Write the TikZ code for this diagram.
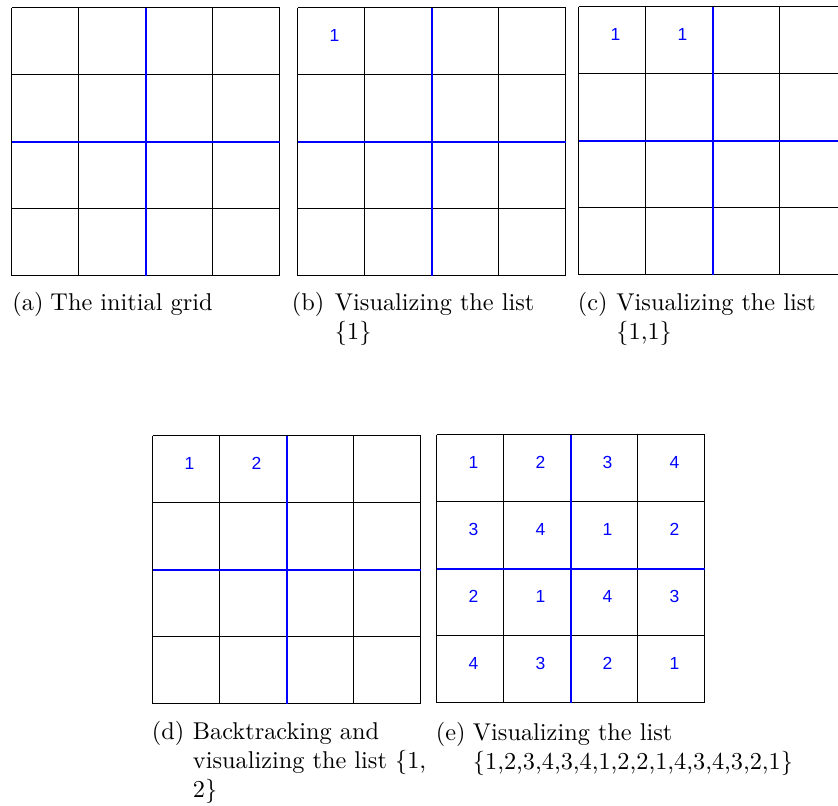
\documentclass[tikz,border=0pt]{standalone}
\usepackage{fontspec}
\newfontfamily\digitfont{Liberation Sans}
\usetikzlibrary{positioning}
\definecolor{boxblue}{RGB}{0,0,255}

\tikzset{
  gridline/.style={line width=0.5pt, black},
  boxline/.style={line width=0.55pt, boxblue},
  cellnum/.style={font=\digitfont\fontsize{7.2}{8}\selectfont, text=boxblue, inner sep=0pt},
  caplabel/.style={anchor=base west, inner sep=0pt},
  captext/.style={anchor=base west, inner sep=0pt, align=left, text width=8cm}
}

% one 4x4 board: #1 = left, #2 = top (pixels)
\newcommand{\boardgrid}[2]{%
  \foreach \k in {0,1,3,4}{
    \draw[gridline] (#1+\k*67,#2) -- (#1+\k*67,#2+268);
    \draw[gridline] (#1,#2+\k*67) -- (#1+268,#2+\k*67);
  }}
\newcommand{\boardbox}[2]{%
  \draw[boxline] (#1+134.5,#2) -- (#1+134.5,#2+268);
  \draw[boxline] (#1,#2+134.5) -- (#1+268,#2+134.5);}

\begin{document}
\begin{tikzpicture}[x=0.4115pt, y=-0.4115pt]
  \path[use as bounding box, fill=white] (0,0) rectangle (838,806);
  \clip (0,0) rectangle (838,806);

  % boards
  \foreach \bx/\by in {11.5/7.5, 297.5/7.5, 578.5/6.5, 152.5/435.5, 436.5/434.5}
    \boardgrid{\bx}{\by};
  \foreach \bx/\by in {11.5/7.5, 297.5/7.5, 578.5/6.5, 152.5/435.5, 436.5/434.5}
    \boardbox{\bx}{\by};

  % filled cells
  \node[cellnum] (b11) at (297.5+37, 7.5+27.5) {1};
  \foreach \c/\v in {0/1,1/1}
    \node[cellnum] (c1\c) at (578.5+\c*67+37, 6.5+27.5) {\v};
  \foreach \c/\v in {0/1,1/2}
    \node[cellnum] (d1\c) at (152.5+\c*67+37, 435.5+27.5) {\v};
  \foreach \r/\a/\b/\cc/\d in {0/1/2/3/4, 1/3/4/1/2, 2/2/1/4/3, 3/4/3/2/1}{
    \node[cellnum] (e\r0) at (436.5+37,     434.5+\r*67+27.5) {\a};
    \node[cellnum] (e\r1) at (436.5+67+37,  434.5+\r*67+27.5) {\b};
    \node[cellnum] (e\r2) at (436.5+134+37, 434.5+\r*67+27.5) {\cc};
    \node[cellnum] (e\r3) at (436.5+201+37, 434.5+\r*67+27.5) {\d};
  }

  % captions
  \node[caplabel] (capa) at (12,310.7) {(a)};
  \node[captext]  (txta) at (50,310.7) {The initial grid};
  \node[caplabel] (capb) at (291.5,310.5) {(b)};
  \node[captext]  (txtb) at (334.5,310.5) {Visualizing the list\\\{1\}};
  \node[caplabel] (capc) at (577.5,310.5) {(c)};
  \node[captext]  (txtc) at (616,310.5) {Visualizing the list\\\{1,1\}};
  \node[caplabel] (capd) at (151.5,739.5) {(d)};
  \node[captext]  (txtd) at (192.5,739.5) {Backtracking and\\visualizing the list \{1,\\2\}};
  \node[caplabel] (cape) at (435.5,740) {(e)};
  \node[captext]  (txte) at (472.5,740) {Visualizing the list\\\{1,2,3,4,3,4,1,2,2,1,4,3,4,3,2,1\}};
\end{tikzpicture}
\end{document}
